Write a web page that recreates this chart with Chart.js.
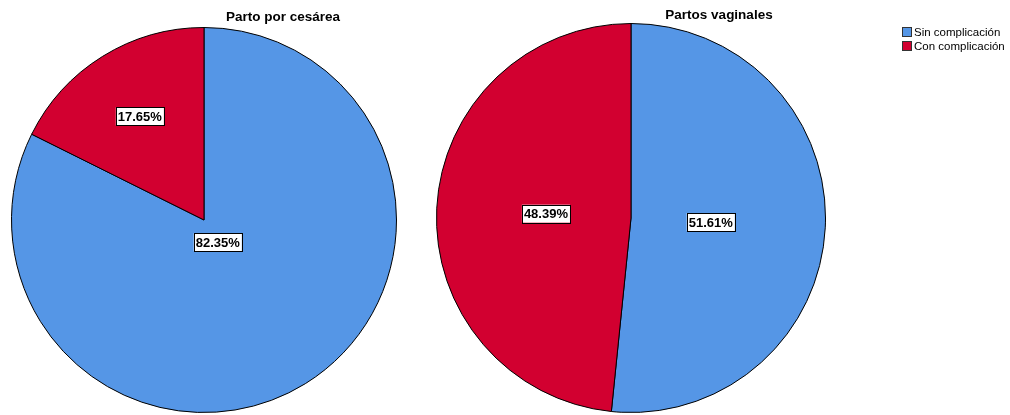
<!DOCTYPE html>
<html>
<head>
<meta charset="utf-8">
<script src="https://cdn.jsdelivr.net/npm/chart.js@4.4.1/dist/chart.umd.min.js"></script>
<style>
  body { margin: 0; background: #fff; width: 1010px; height: 415px; position: relative; overflow: hidden; }
  .box { position: absolute; top: 0; height: 415px; }
  .titulo { position: absolute; width: 300px; text-align: center; font: bold 13.5px "Liberation Sans", Arial, sans-serif; color: #000; }
  #legend { position: absolute; left: 902px; top: 26px; font: 11.5px "Liberation Sans", Arial, sans-serif; color: #000; }
  #legend div { height: 13.5px; line-height: 13px; white-space: nowrap; }
  #legend span { display: inline-block; width: 8px; height: 8px; border: 1px solid #333; margin-right: 2px; vertical-align: -1px; }
</style>
</head>
<body>
<div class="box" style="left:0;width:566px"><canvas id="cesarea"></canvas></div>
<div class="box" style="left:430px;width:580px"><canvas id="vaginal"></canvas></div>
<div class="titulo" id="t0" style="left:133px;top:9px"></div>
<div class="titulo" id="t1" style="left:569px;top:7px"></div>
<div id="legend"></div>
<script>
// datos (porcentajes)
const categorias = ["Sin complicación", "Con complicación"];
const colores = ["#5596E6", "#D20030"];
const cesarea = [82.35, 17.65];
const vaginal = [51.61, 48.39];
const titulos = ["Parto por cesárea", "Partos vaginales"];

// etiqueta en el centroide de cada sector
const etiquetas = {
    id: 'etiquetas',
    afterDatasetsDraw(chart) {
        const ctx = chart.ctx;
        const ds = chart.data.datasets[0];
        chart.getDatasetMeta(0).data.forEach((arc, i) => {
            const a = arc.endAngle - arc.startAngle;
            const mid = (arc.startAngle + arc.endAngle) / 2;
            const d = 2 * arc.outerRadius * Math.sin(a / 2) / (1.5 * a);
            const x = arc.x + Math.cos(mid) * d;
            const y = arc.y + Math.sin(mid) * d;
            const txt = ds.data[i].toFixed(2) + '%';
            ctx.save();
            ctx.font = 'bold 13px "Liberation Sans", Arial, sans-serif';
            const w = ctx.measureText(txt).width + 4;
            ctx.fillStyle = '#fff';
            ctx.fillRect(x - w / 2, y - 9, w, 18);
            ctx.strokeStyle = '#000';
            ctx.lineWidth = 1;
            ctx.strokeRect(Math.round(x - w / 2) + 0.5, Math.round(y - 9) + 0.5, Math.round(w), 18);
            ctx.fillStyle = '#000';
            ctx.textAlign = 'center';
            ctx.textBaseline = 'middle';
            ctx.fillText(txt, x, y + 1);
            ctx.restore();
        });
    }
};

function crearPie(id, valores, padding) {
    return new Chart(document.getElementById(id), {
        type: 'pie',
        data: {
            labels: categorias,
            datasets: [{
                data: valores,
                backgroundColor: colores,
                borderColor: '#000',
                borderWidth: 1
            }]
        },
        options: {
            responsive: true,
            maintainAspectRatio: false,
            animation: false,
            layout: { padding: padding },
            plugins: {
                legend: { display: false },
                tooltip: { enabled: false }
            }
        },
        plugins: [etiquetas]
    });
}

crearPie('cesarea', cesarea, { left: 11, right: 169, top: 27, bottom: 2 });
crearPie('vaginal', vaginal, { left: 6, right: 184, top: 23, bottom: 2 });

document.getElementById('t0').textContent = titulos[0];
document.getElementById('t1').textContent = titulos[1];

// leyenda
document.getElementById('legend').innerHTML = categorias
    .map((c, i) => '<div><span style="background:' + colores[i] + '"></span>' + c + '</div>')
    .join('');
</script>
</body>
</html>
